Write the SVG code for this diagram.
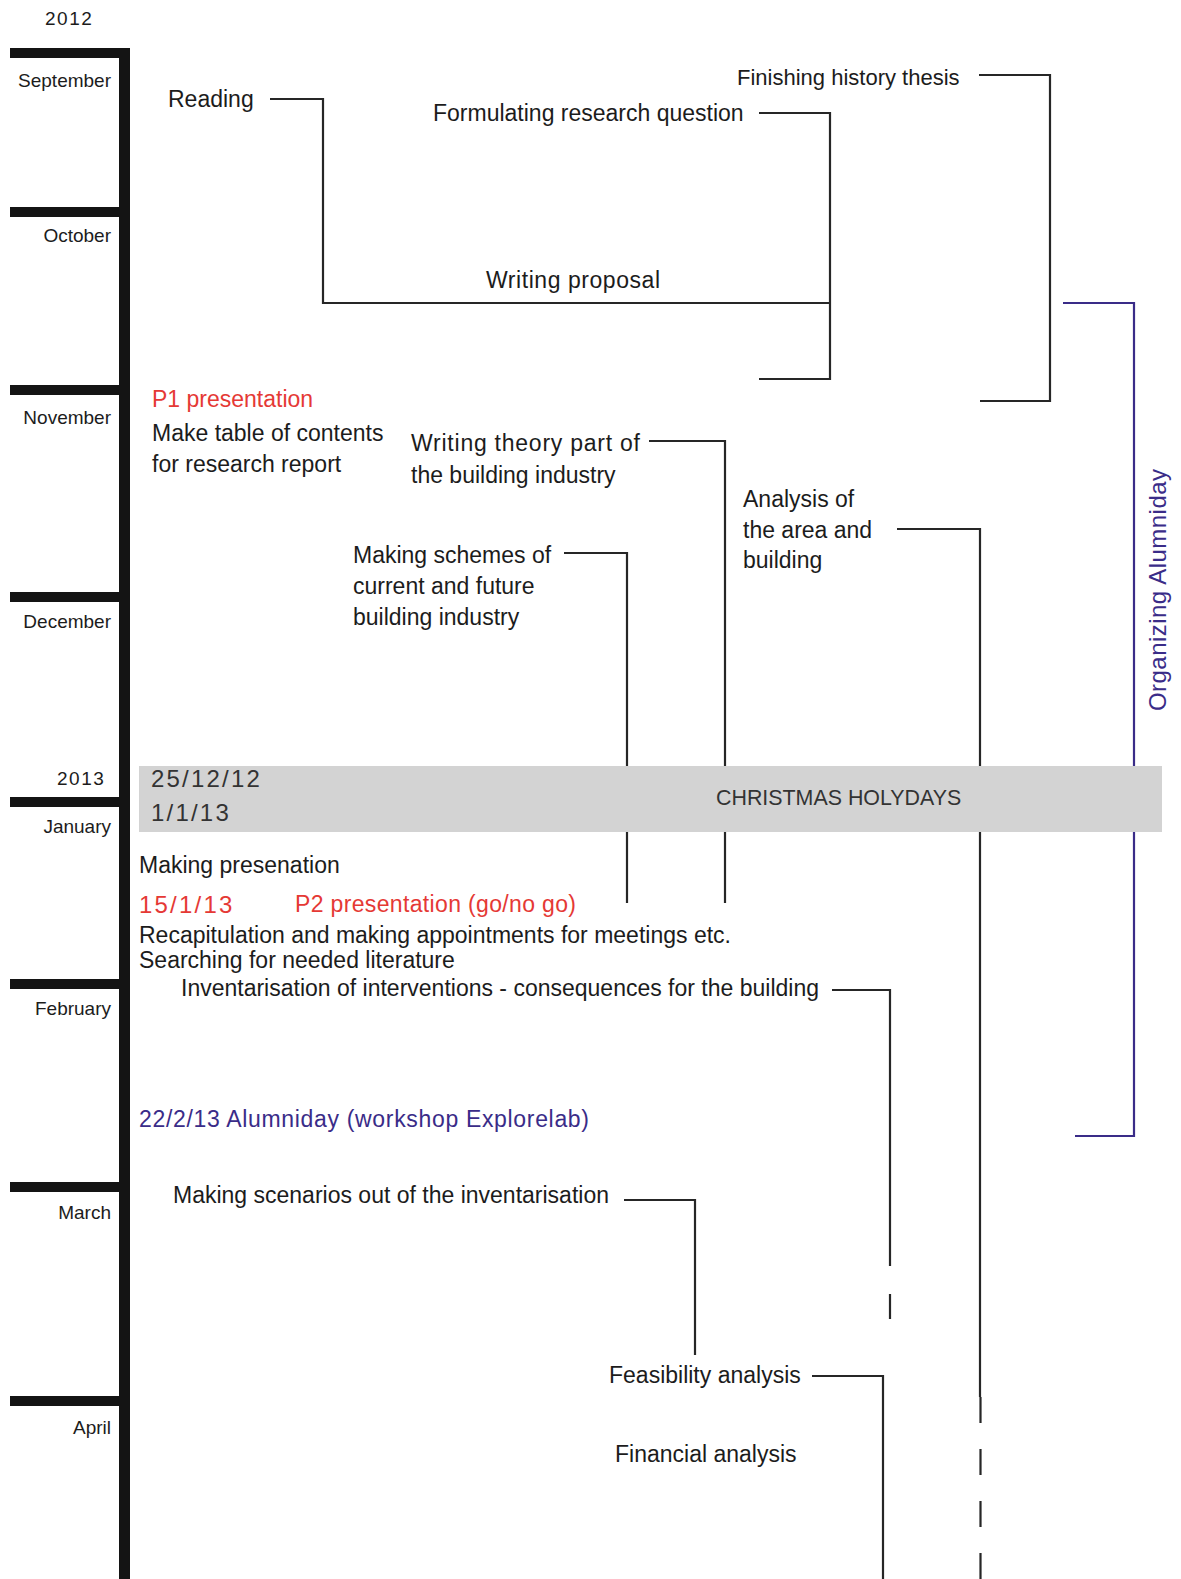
<svg xmlns="http://www.w3.org/2000/svg" width="1181" height="1579" viewBox="0 0 1181 1579">
  <style>
    .t { font-family: "Liberation Sans", Arial, sans-serif; font-size: 23px; fill: #1c1c1c; }
    .month { font-family: "Liberation Sans", Arial, sans-serif; font-size: 19px; fill: #1c1c1c; text-anchor: end; }
    .year { font-family: "Liberation Sans", Arial, sans-serif; font-size: 19px; fill: #1c1c1c; letter-spacing: 1.5px; }
    .date { font-family: "Liberation Sans", Arial, sans-serif; font-size: 24px; letter-spacing: 2.2px; }
    .red { fill: #e53935; }
    .purple { fill: #3a2c88; }
    .grey { fill: #333333; }
    .bar { fill: #141414; }
    .link { fill: none; stroke: #262626; stroke-width: 2.2; }
    .plink { fill: none; stroke: #3a2c88; stroke-width: 2.2; }
  </style>

  <rect width="1181" height="1579" fill="#ffffff"/>

  <!-- timeline spine and month ticks -->
  <g id="timeline">
    <rect class="bar" x="119" y="48" width="11" height="1531"/>
    <rect class="bar" x="10" y="48" width="109" height="10"/>
    <rect class="bar" x="10" y="207" width="109" height="10"/>
    <rect class="bar" x="10" y="385" width="109" height="10"/>
    <rect class="bar" x="10" y="592" width="109" height="10"/>
    <rect class="bar" x="10" y="797" width="109" height="10"/>
    <rect class="bar" x="10" y="979" width="109" height="10"/>
    <rect class="bar" x="10" y="1182" width="109" height="10"/>
    <rect class="bar" x="10" y="1396" width="109" height="10"/>
    <text class="year" x="45" y="25">2012</text>
    <text class="year" x="57" y="785">2013</text>
    <text class="month" x="111" y="87">September</text>
    <text class="month" x="111" y="242">October</text>
    <text class="month" x="111" y="424">November</text>
    <text class="month" x="111" y="628">December</text>
    <text class="month" x="111" y="833">January</text>
    <text class="month" x="111" y="1015">February</text>
    <text class="month" x="111" y="1219">March</text>
    <text class="month" x="111" y="1434">April</text>
  </g>

  <!-- connectors -->
  <g id="connectors">
    <path class="link" d="M270,99 H323 V303 H830"/>
    <path class="link" d="M759,113 H830 V379 H759"/>
    <path class="link" d="M979,75 H1050 V401 H980"/>
    <path class="plink" d="M1063,303 H1134 V1136 H1075"/>
    <path class="link" d="M649,441 H725 V903"/>
    <path class="link" d="M564,553 H627 V903"/>
    <path class="link" d="M897,529 H980 V1397"/>
    <path class="link" d="M980.5,1397 V1579" stroke-dasharray="26 26"/>
    <path class="link" d="M832,990 H890 V1266"/>
    <path class="link" d="M890,1294 V1319"/>
    <path class="link" d="M624,1200 H695 V1355"/>
    <path class="link" d="M812,1376 H883 V1579"/>
  </g>

  <!-- holiday band -->
  <g id="christmas">
    <rect x="139" y="766" width="1023" height="66" fill="#d3d3d3"/>
    <text class="date grey" x="151" y="787">25/12/12</text>
    <text class="date grey" x="151" y="821">1/1/13</text>
    <text class="t grey" x="716" y="805" style="font-size:21.4px">CHRISTMAS HOLYDAYS</text>
  </g>

  <g id="reading"><text class="t" x="168" y="107">Reading</text></g>
  <g id="research-question"><text class="t" x="433" y="121">Formulating research question</text></g>
  <g id="history-thesis"><text class="t" x="737" y="85" style="font-size:22px">Finishing history thesis</text></g>
  <g id="proposal"><text class="t" x="486" y="288" textLength="174">Writing proposal</text></g>
  <g id="alumniday-org">
    <text class="t purple" transform="translate(1166,590) rotate(-90)" text-anchor="middle" style="font-size:24px" textLength="242">Organizing Alumniday</text>
  </g>

  <g id="p1"><text class="t red" x="152" y="407">P1 presentation</text></g>
  <g id="table-of-contents">
    <text class="t" x="152" y="441">Make table of contents</text>
    <text class="t" x="152" y="472">for research report</text>
  </g>
  <g id="theory">
    <text class="t" x="411" y="451" textLength="229">Writing theory part of</text>
    <text class="t" x="411" y="483">the building industry</text>
  </g>
  <g id="area-analysis">
    <text class="t" x="743" y="507">Analysis of</text>
    <text class="t" x="743" y="538">the area and</text>
    <text class="t" x="743" y="568">building</text>
  </g>
  <g id="schemes">
    <text class="t" x="353" y="563">Making schemes of</text>
    <text class="t" x="353" y="594">current and future</text>
    <text class="t" x="353" y="625">building industry</text>
  </g>

  <g id="presentation-prep"><text class="t" x="139" y="873">Making presenation</text></g>
  <g id="p2">
    <text class="date red" x="139" y="913">15/1/13</text>
    <text class="t red" x="295" y="912" textLength="281">P2 presentation (go/no go)</text>
  </g>
  <g id="recapitulation"><text class="t" x="139" y="943">Recapitulation and making appointments for meetings etc.</text></g>
  <g id="literature"><text class="t" x="139" y="968">Searching for needed literature</text></g>
  <g id="inventarisation"><text class="t" x="181" y="996">Inventarisation of interventions - consequences for the building</text></g>
  <g id="alumniday"><text class="t purple" x="139" y="1127" textLength="450">22/2/13 Alumniday (workshop Explorelab)</text></g>
  <g id="scenarios"><text class="t" x="173" y="1203">Making scenarios out of the inventarisation</text></g>
  <g id="feasibility"><text class="t" x="609" y="1383">Feasibility analysis</text></g>
  <g id="financial"><text class="t" x="615" y="1462">Financial analysis</text></g>
</svg>
